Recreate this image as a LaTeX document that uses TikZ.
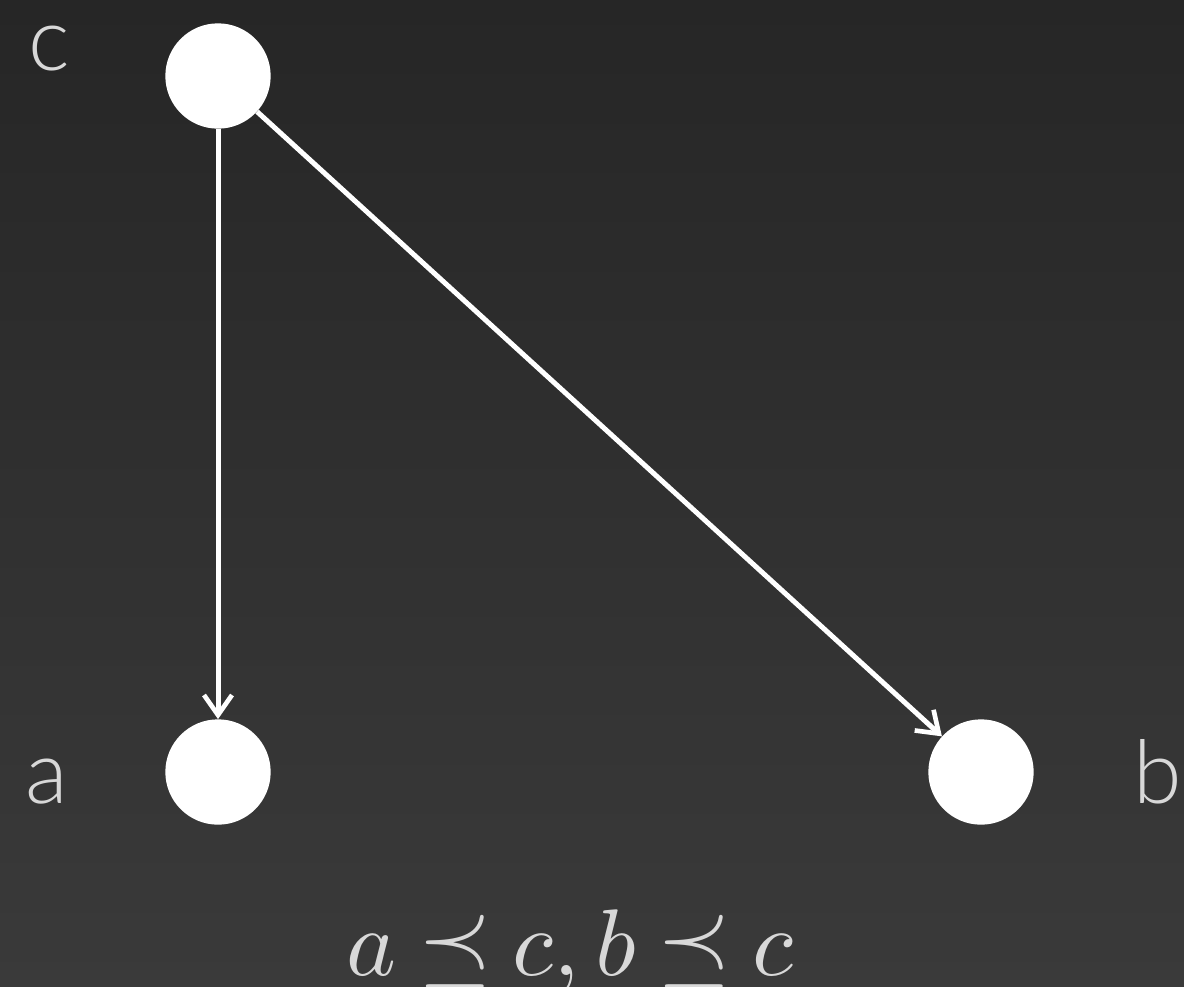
\documentclass[tikz,border=0pt]{standalone}
\usepackage{graphicx}
\usepackage{fontspec}
\newfontfamily\labelfont{Lato Light}
\usetikzlibrary{arrows.meta,positioning}
\definecolor{BgTop}{HTML}{262626}
\definecolor{BgBottom}{HTML}{3A3A3A}
\definecolor{LabelGray}{HTML}{D8D8D8}

\begin{document}
\begin{tikzpicture}[x=0.75pt,y=-0.75pt,
  vertex/.style={circle,fill=white,minimum size=79pt,inner sep=0pt},
  arr/.style={-{Straight Barb[length=15pt,width=21pt,line width=3.5pt]},line width=3.75pt,white},
  lbl/.style={text=LabelGray,font=\labelfont\fontsize{66}{66}\selectfont,anchor=base,inner sep=0pt},
]
\shade[top color=BgTop,bottom color=BgBottom] (0,0) rectangle (1184,986);
\useasboundingbox (0,0) rectangle (1184,986);
\node[vertex] (c) at (218,76) {};
\node[vertex] (a) at (218,772) {};
\node[vertex] (b) at (981,772) {};
\node[lbl] (lc) at (49,70) {c};
\node[lbl] (la) at (47,803) {a};
\node[lbl] (lb) at (1158,803) {b};
\draw[arr] (c) -- (a);
\draw[arr] (c) -- (b);
\node[text=LabelGray,anchor=base,inner sep=0pt] (rel) at (570,975)
  {\scalebox{7.1}{$\thickmuskip=4mu a \preceq c, b \preceq c$}};
\end{tikzpicture}
\end{document}
